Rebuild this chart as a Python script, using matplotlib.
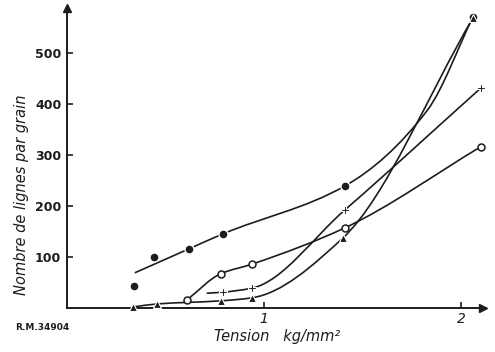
import numpy as np
import matplotlib
matplotlib.use("Agg")
import matplotlib.pyplot as plt
from matplotlib.path import Path
from matplotlib.patches import PathPatch

# values (tension kg/mm2, lines per grain)
dots_x = [0.34, 0.44, 0.62, 0.79, 1.41, 2.06]
dots_y = [43, 100, 116, 145, 239, 570]
dots_curve_x = [0.345, 0.62, 0.79, 1.41, 1.83, 2.06]
dots_curve_y = [69, 116, 145, 239, 388, 570]

rings_x = [0.61, 0.78, 0.94, 1.41, 2.10]
rings_y = [16, 67, 86, 157, 316]

plus_x = [0.79, 0.94, 1.41, 2.10]
plus_y = [31, 39, 192, 431]
plus_curve_x = [0.71, 0.79, 0.94, 1.41, 2.10]
plus_curve_y = [29, 31, 39, 192, 431]

tri_x = [0.335, 0.46, 0.78, 0.94, 1.40, 2.06]
tri_y = [2, 8, 14, 20, 137, 568]

yticks = [100, 200, 300, 400, 500]
xticks = [1, 2]

ink = "#1c1c1c"


def smooth_path(xs, ys):
    # monotone cubic (Fritsch-Carlson) through the nodes, as beziers
    x = np.asarray(xs, float)
    y = np.asarray(ys, float)
    h = np.diff(x)
    d = np.diff(y) / h
    m = np.zeros_like(x)
    m[0], m[-1] = d[0], d[-1]
    for i in range(1, len(x) - 1):
        if d[i - 1] * d[i] > 0:
            w1 = 2 * h[i] + h[i - 1]
            w2 = h[i] + 2 * h[i - 1]
            m[i] = (w1 + w2) / (w1 / d[i - 1] + w2 / d[i])
    verts = [(x[0], y[0])]
    codes = [Path.MOVETO]
    for i in range(len(x) - 1):
        verts += [(x[i] + h[i] / 3, y[i] + m[i] * h[i] / 3),
                  (x[i + 1] - h[i] / 3, y[i + 1] - m[i + 1] * h[i] / 3),
                  (x[i + 1], y[i + 1])]
        codes += [Path.CURVE4] * 3
    return Path(verts, codes)


fig = plt.figure(figsize=(4.95, 3.52), dpi=100)
ax = fig.add_axes([0.135, 0.125, 0.840, 0.852])
ax.set_xlim(0, 2.11)
ax.set_ylim(0, 588)

for cx, cy in [(dots_curve_x, dots_curve_y), (rings_x, rings_y),
               (plus_curve_x, plus_curve_y), (tri_x, tri_y)]:
    ax.add_patch(PathPatch(smooth_path(cx, cy), fill=False, ec=ink, lw=1.2,
                           zorder=2, clip_on=False))

ax.plot(dots_x, dots_y, "o", ms=6.5, mfc=ink, mec="white", mew=1.0,
        zorder=3, clip_on=False)
ax.plot(rings_x, rings_y, "o", ms=5, mfc="white", mec=ink, mew=1.1,
        zorder=3, clip_on=False)
ax.plot(plus_x, plus_y, "P", ms=6, mfc=ink, mec="white", mew=0.8,
        zorder=3, clip_on=False)
ax.plot(tri_x, tri_y, "^", ms=5.5, mfc=ink, mec="white", mew=0.8,
        zorder=3, clip_on=False)

for s in ["top", "right"]:
    ax.spines[s].set_visible(False)
for s in ["left", "bottom"]:
    ax.spines[s].set_linewidth(1.4)
    ax.spines[s].set_color(ink)

# arrow heads on the axes
ax.plot(1, 0, ">", color=ink, ms=6, transform=ax.get_yaxis_transform(),
        clip_on=False)
ax.plot(0, 1, "^", color=ink, ms=6, transform=ax.get_xaxis_transform(),
        clip_on=False)

ax.set_yticks(yticks)
ax.set_yticklabels([str(v) for v in yticks], fontsize=9, fontweight="bold",
                   color=ink)
ax.set_xticks(xticks)
ax.set_xticklabels([str(v) for v in xticks], fontsize=10, style="italic",
                   color=ink)
ax.tick_params(direction="in", length=4, width=1.2, color=ink)
ax.tick_params(axis="y", pad=4)
ax.tick_params(axis="x", pad=3)

fig.text(22 / 495, 1 - 195 / 352, "Nombre de lignes par grain", rotation=90,
         ha="center", va="center", fontsize=10.5, style="italic", color=ink)
fig.text(277 / 495, 1 - 336 / 352, "Tension   kg/mm²", ha="center",
         va="center", fontsize=10.5, style="italic", color=ink)
fig.text(15 / 495, 1 - 327 / 352, "R.M.34904", ha="left", va="center",
         fontsize=6.5, fontweight="bold", color=ink)

fig.savefig("out.png", dpi=100, facecolor="white")
